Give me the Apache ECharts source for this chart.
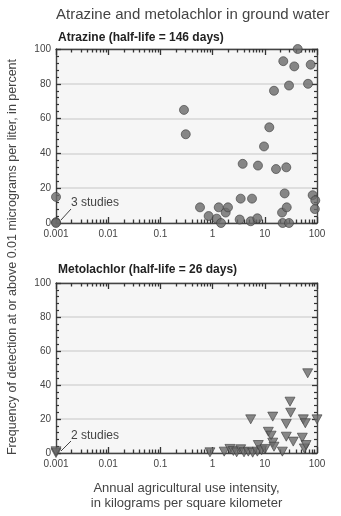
<!DOCTYPE html>
<html>
<head>
<meta charset="utf-8">
<script src="https://cdn.jsdelivr.net/npm/echarts@6/dist/echarts.min.js"></script>
<style>
  html, body { margin: 0; padding: 0; background: #fff; }
  #chart { width: 341px; height: 516px; }
</style>
</head>
<body>
<div id="chart"></div>
<script>
// data
var xTickLabels = ['0.001', '0.01', '0.1', '1', '10', '100'];

var atrazineX = [0.001, 0.001, 0.001, 0.283, 0.306, 0.574, 0.84, 1.2, 1.31, 1.45, 1.78, 1.97, 3.3, 3.45, 3.77, 5.37, 5.69, 7.2, 7.4, 9.66, 12.2, 15, 16.4, 21.4, 22, 22.6, 24, 25.8, 26.3, 29.1, 29.1, 36.7, 42.7, 67.3, 75.7, 82.6, 91, 92.7];
var atrazineY = [15, 0.5, 0, 65, 51, 9, 4, 2.5, 9, 0, 6, 9, 2, 14, 34, 1, 14, 2.7, 33, 44, 55, 76, 31, 6, 0, 93, 17, 32, 9, 0, 79, 90, 100, 80, 91, 16, 8, 13];

var metolachlorX = [0.001, 0.001, 0.89, 1.67, 2.15, 2.5, 2.89, 3.45, 4, 4.83, 5.37, 5.86, 7.2, 7.5, 8.7, 10.1, 11.7, 13.2, 14.2, 14.2, 15, 21.7, 25.8, 25.8, 30.4, 31.3, 35.1, 52.3, 54.7, 57.2, 59.7, 61.6, 66.4, 100];
var metolachlorY = [0, 1, 0.4, 0.8, 2.4, 1.2, 0.4, 2.2, 0.4, 0.8, 19.8, 0.2, 0.8, 4.7, 1.6, 2.4, 12.5, 10.2, 21.4, 6.1, 3.7, 0.8, 17.1, 9.6, 30.2, 23.7, 6.7, 9, 19.8, 2.7, 17.5, 4.7, 46.9, 19.8];

function pairs(xs, ys) {
    var out = [];
    for (var i = 0; i < xs.length; i++) out.push([xs[i], ys[i]]);
    return out;
}

// minor log ticks 2..9 of each decade, in log10 space
var minorLog = [];
for (var d = -3; d < 2; d++) {
    for (var k = 2; k <= 9; k++) minorLog.push(Math.log10(k) + d);
}

var plain = "'Liberation Sans', Arial, sans-serif";
var ink = '#444';
var frame = '#444';
var tick = '#333';

var grids = [
    { left: 56, top: 49, width: 261, height: 174 },
    { left: 56, top: 283, width: 261, height: 170 }
];

var option = {
    animation: false,
    title: [
        { text: 'Atrazine and metolachlor in ground water', left: 56, top: 7, padding: 0,
          textStyle: { fontFamily: plain, fontSize: 15, fontWeight: 'normal', color: ink } },
        { text: 'Atrazine (half-life = 146 days)', left: 58, top: 32, padding: 0,
          textStyle: { fontFamily: plain, fontSize: 12, fontWeight: 'bold', color: '#222' } },
        { text: 'Metolachlor (half-life = 26 days)', left: 58, top: 264, padding: 0,
          textStyle: { fontFamily: plain, fontSize: 12, fontWeight: 'bold', color: '#222' } }
    ],
    grid: [],
    xAxis: [],
    yAxis: [],
    series: [],
    graphic: [
        { type: 'text', rotation: Math.PI / 2, x: 13, y: 257,
          style: { text: 'Frequency of detection at or above 0.01 micrograms per liter, in percent',
                   font: '12.5px ' + plain, fill: ink, textAlign: 'center', textVerticalAlign: 'middle' } },
        { type: 'text', x: 71, y: 203,
          style: { text: '3 studies', font: '12px ' + plain, fill: ink, textVerticalAlign: 'middle' } },
        { type: 'line', shape: { x1: 61, y1: 220, x2: 71, y2: 209 }, style: { stroke: ink, lineWidth: 1 } },
        { type: 'text', x: 71, y: 436,
          style: { text: '2 studies', font: '12px ' + plain, fill: ink, textVerticalAlign: 'middle' } },
        { type: 'line', shape: { x1: 61, y1: 451, x2: 71, y2: 441 }, style: { stroke: ink, lineWidth: 1 } }
    ]
};

grids.forEach(function (g, gi) {
    // main grid and an overlay grid carrying the minor log ticks
    option.grid.push({ left: g.left, top: g.top, width: g.width, height: g.height,
        show: true, backgroundColor: '#f6f6f6', borderWidth: 0 });
    option.grid.push({ left: g.left, top: g.top, width: g.width, height: g.height, show: false });
    var mainIdx = gi * 2, overIdx = gi * 2 + 1;

    ['bottom', 'top'].forEach(function (pos) {
        option.xAxis.push({
            type: 'log', logBase: 10, min: 0.001, max: 100, splitNumber: 5,
            gridIndex: mainIdx, position: pos,
            axisLine: { show: true, onZero: false, lineStyle: { color: frame, width: 1.4 } },
            axisTick: { show: true, inside: true, length: 6, lineStyle: { color: tick, width: 1.3 } },
            splitLine: { show: false },
            axisLabel: {
                show: pos === 'bottom', margin: 6, color: ink, fontFamily: plain, fontSize: 10,
                formatter: function (v) { return xTickLabels[Math.round(Math.log10(v)) + 3]; }
            },
            name: (gi === 1 && pos === 'bottom') ? 'Annual agricultural use intensity,\nin kilograms per square kilometer' : '',
            nameLocation: 'middle', nameGap: 28,
            nameTextStyle: { fontFamily: plain, fontSize: 13, color: ink, lineHeight: 15 }
        });
        option.xAxis.push({
            type: 'value', min: -3, max: 2, gridIndex: overIdx, position: pos,
            axisLine: { show: false, onZero: false },
            splitLine: { show: false }, axisLabel: { show: false },
            axisTick: { show: true, inside: true, length: 3.5, customValues: minorLog, lineStyle: { color: tick, width: 1.3 } }
        });
    });

    ['left', 'right'].forEach(function (pos) {
        option.yAxis.push({
            type: 'value', min: 0, max: 100, interval: 20, gridIndex: mainIdx, position: pos,
            axisLine: { show: true, onZero: false, lineStyle: { color: frame, width: 1.4 } },
            axisTick: { show: true, inside: true, length: 5, lineStyle: { color: tick, width: 1.3 } },
            minorTick: { show: true, splitNumber: 5, length: 3, lineStyle: { color: tick, width: 1.2 } },
            splitLine: { show: pos === 'left', lineStyle: { color: '#d6d6d6', width: 1.5 } },
            axisLabel: {
                show: pos === 'left', margin: 5, color: ink, fontFamily: plain, fontSize: 10
            }
        });
    });
    option.yAxis.push({ type: 'value', min: 0, max: 100, gridIndex: overIdx, show: false });
});

option.series.push({
    type: 'scatter', name: 'Atrazine', xAxisIndex: 0, yAxisIndex: 0, clip: false,
    symbol: 'circle', symbolSize: 9,
    itemStyle: { color: '#6a6a6a', borderColor: '#3e3e3e', borderWidth: 0.8 },
    data: pairs(atrazineX, atrazineY)
});
option.series.push({
    type: 'scatter', name: 'Metolachlor', xAxisIndex: 4, yAxisIndex: 3, clip: false,
    symbol: 'triangle', symbolRotate: 180, symbolSize: [10, 9],
    itemStyle: { color: '#6a6a6a', borderColor: '#3e3e3e', borderWidth: 0.8 },
    data: pairs(metolachlorX, metolachlorY)
});

var chart = echarts.init(document.getElementById('chart'));
chart.setOption(option);
</script>
</body>
</html>
